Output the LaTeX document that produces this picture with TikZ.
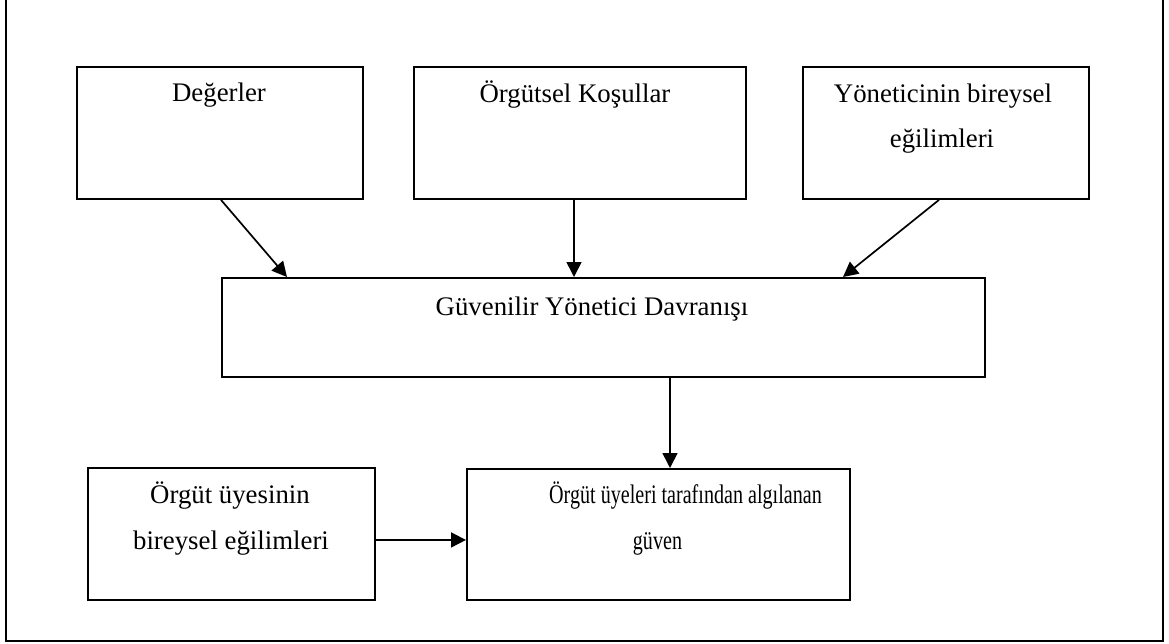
\documentclass[tikz,border=0pt]{standalone}
\usepackage{fontspec}
\setmainfont{Liberation Serif}
\usetikzlibrary{arrows.meta}
\begin{document}
\begin{tikzpicture}[x=1pt,y=-1pt,
  box/.style={draw=black,line width=1.9pt,rectangle,inner sep=0pt,anchor=north west},
  lbl/.style={anchor=base,inner sep=0pt,font=\fontsize{26.8}{32}\selectfont},
  arr/.style={line width=1.7pt,-{Triangle[length=15pt,width=15pt]}}]
\useasboundingbox (0,0) rectangle (1169,643);
% outer frame (top edge lies outside the picture)
\draw[line width=2.2pt] (6,-2) -- (6,641) -- (1163,641) -- (1163,-2);
% boxes
\node[box,minimum width=286pt,minimum height=132pt] (deg) at (76,66) {};
\node[box,minimum width=332pt,minimum height=132pt] (ork) at (413,66) {};
\node[box,minimum width=286pt,minimum height=132pt] (yon) at (802,66) {};
\node[box,minimum width=763pt,minimum height=99pt] (guv) at (221,277) {};
\node[box,minimum width=287pt,minimum height=132pt] (uye) at (87,467) {};
\node[box,minimum width=383pt,minimum height=131pt] (alg) at (466,468) {};
% texts
\node[lbl] (tdeg) at (219,101) {Değerler};
\node[lbl] (tork) at (575,102) {Örgütsel Koşullar};
\node[lbl] (tyon1) at (943,102) {Yöneticinin bireysel};
\node[lbl] (tyon2) at (942,147) {eğilimleri};
\node[lbl] (tguv) at (592,315) {Güvenilir Yönetici Davranışı};
\node[lbl] (tuye1) at (230,503) {Örgüt üyesinin};
\node[lbl] (tuye2) at (231,549) {bireysel eğilimleri};
\node[lbl] (talg1) at (685.5,503) {\scalebox{0.75}[1]{Örgüt üyeleri tarafından algılanan}};
\node[lbl] (talg2) at (657.5,549) {\scalebox{0.75}[1]{güven}};
% connectors
\draw[arr] ([xshift=145pt]deg.south west) -- ([xshift=66pt]guv.north west);
\draw[arr] ([xshift=161pt]ork.south west) -- ([xshift=353pt]guv.north west);
\draw[arr] ([xshift=137pt]yon.south west) -- ([xshift=622pt]guv.north west);
\draw[arr] ([xshift=449pt]guv.south west) -- ([xshift=204pt]alg.north west);
\draw[arr] ([yshift=-6pt]uye.east) -- ([yshift=-5.5pt]alg.west);
\end{tikzpicture}
\end{document}
